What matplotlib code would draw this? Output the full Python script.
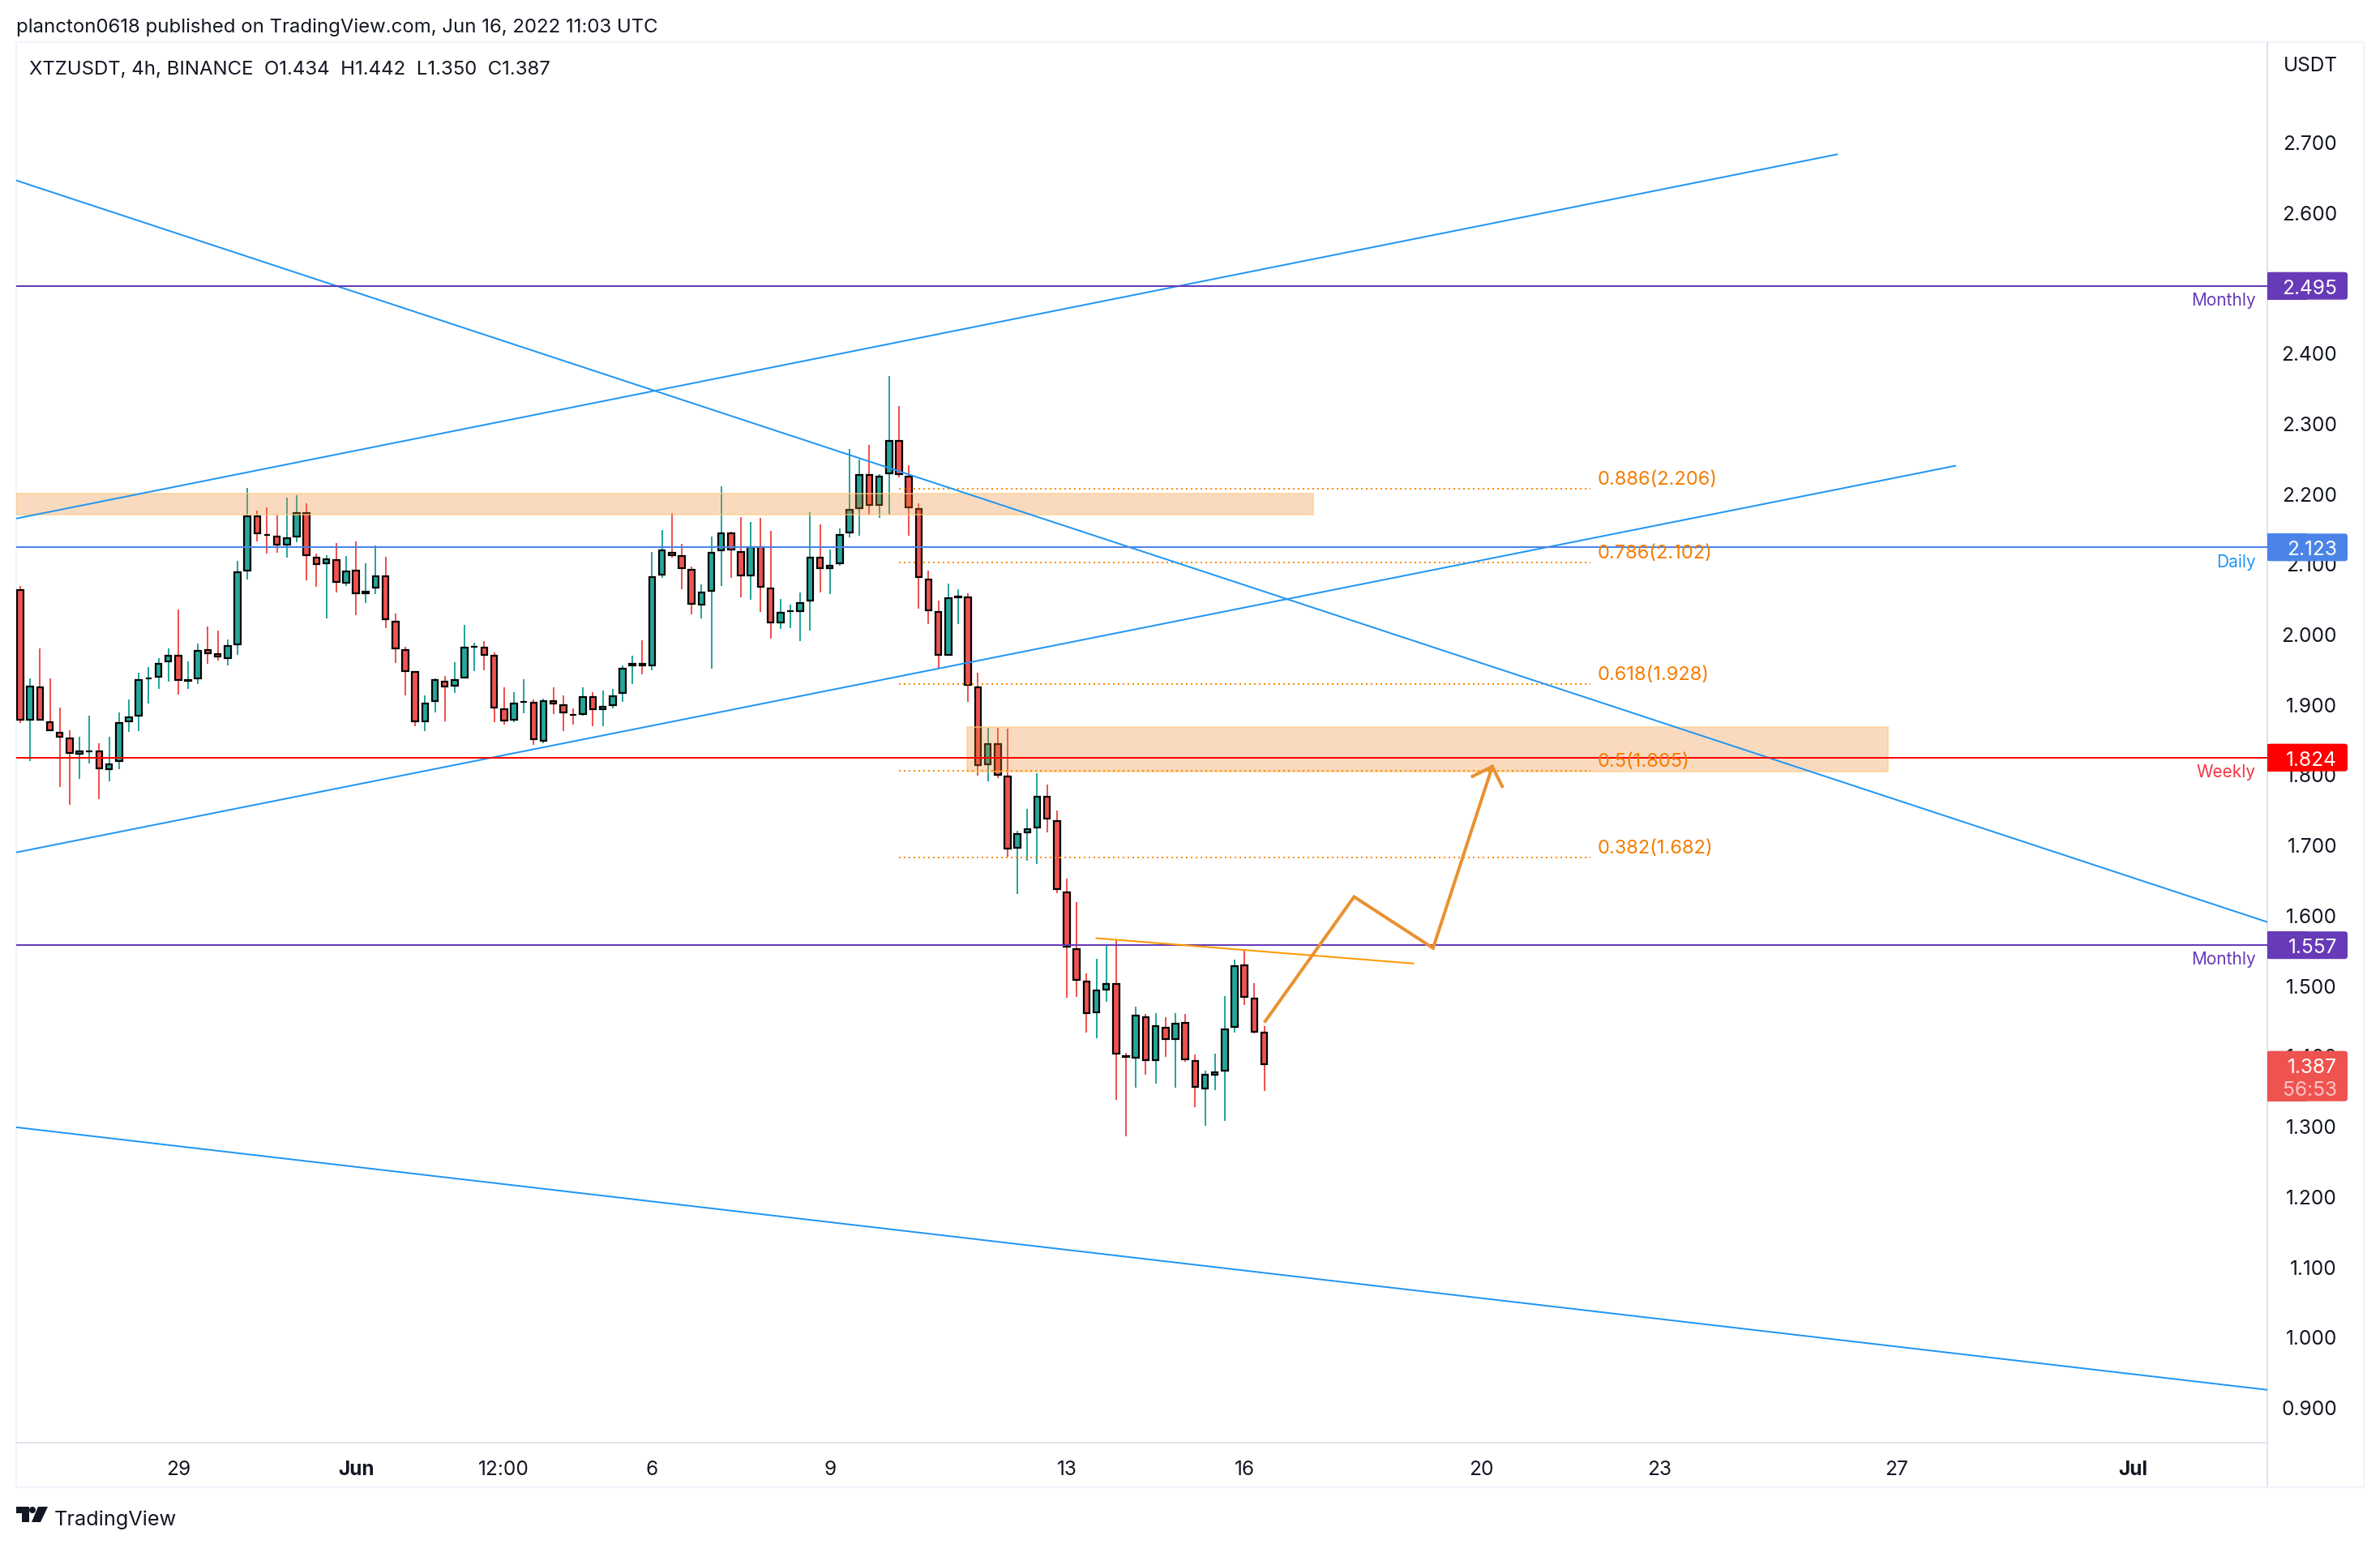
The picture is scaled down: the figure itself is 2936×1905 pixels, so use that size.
import matplotlib
matplotlib.use("Agg")
import matplotlib.pyplot as plt
from matplotlib.patches import Rectangle, FancyBboxPatch, Polygon, Circle

W, H, DPI = 2936, 1906, 200
PX = 72 / DPI

# ---- data ---------------------------------------------------------------
opens = [2.063,1.8765,1.9245,1.876,1.861,1.852,1.828,1.8327,1.8335,1.8066,
 1.818,1.874,1.8827,1.9357,1.938,1.96,1.9695,1.932,1.9357,1.9776,
 1.9718,1.9645,1.9841,2.089,2.1678,2.1417,2.14,2.1255,2.1375,2.1724,
 2.11,2.0994,2.1056,2.0717,2.0906,2.0567,2.065,2.0825,2.019,1.9776,
 1.9465,1.8746,1.9034,1.9326,1.9253,1.937,1.9814,1.981,1.9695,1.8934,
 1.877,1.9023,1.9026,1.847,1.906,1.9,1.886,1.8846,1.9107,1.892,
 1.8973,1.915,1.954,1.958,1.954,2.0833,2.117,2.1113,2.0917,2.0406,
 2.06,2.118,2.1436,2.118,2.082,2.1248,2.0652,2.0152,2.0314,2.0314,
 2.0464,2.11,2.092,2.0994,2.1434,2.178,2.2266,2.182,2.2274,2.276,
 2.2254,2.179,2.078,2.0318,1.9684,2.052,2.0536,1.9256,1.8134,1.844,
 1.7988,1.6943,1.7166,1.7237,1.769,1.7344,1.6328,1.5522,1.5061,1.4609,
 1.493,1.5026,1.4001,1.3961,1.4553,1.3918,1.441,1.4227,1.4474,1.393,
 1.3525,1.3719,1.3779,1.4398,1.5292,1.4819,1.434]
highs = [2.068,1.9365,1.9795,1.9365,1.895,1.8627,1.8535,1.8834,1.844,1.8535,
 1.888,1.9065,1.945,1.9526,1.9653,1.9795,2.0348,1.961,1.9864,2.0102,
 2.0045,1.9918,2.104,2.2074,2.1755,2.18,2.1693,2.194,2.1974,2.186,
 2.114,2.1117,2.1294,2.111,2.1317,2.1006,2.126,2.11,2.029,1.9814,
 1.9465,1.9126,1.937,1.94,1.96,2.013,1.987,1.99,1.9734,1.924,
 1.917,1.9357,1.9065,1.9076,1.924,1.9126,1.8942,1.924,1.917,1.9196,
 1.922,1.955,1.969,1.991,2.1167,2.1478,2.1717,2.128,2.0956,2.0706,
 2.1386,2.21,2.145,2.1663,2.1594,2.165,2.1467,2.05,2.0418,2.0587,
 2.173,2.156,2.1194,2.15,2.2628,2.2484,2.269,2.2274,2.367,2.324,
 2.24,2.186,2.09,2.0475,2.0718,2.0635,2.0578,1.945,1.8667,1.8667,
 1.8655,1.72,1.7511,1.8015,1.7857,1.7491,1.6522,1.6185,1.5173,1.5379,
 1.5585,1.5637,1.4037,1.47,1.4593,1.4609,1.4545,1.4609,1.4597,1.4021,
 1.3787,1.4029,1.4851,1.5367,1.5506,1.5033,1.442]
lows = [1.873,1.819,1.8765,1.862,1.7816,1.7566,1.794,1.815,1.7643,1.7897,
 1.808,1.861,1.862,1.9003,1.922,1.9315,1.913,1.922,1.929,1.9568,
 1.9614,1.9545,1.9695,2.0767,2.132,2.1136,2.1148,2.108,2.13,2.0756,
 2.0664,2.0214,2.0583,2.0675,2.027,2.0433,2.056,2.0076,1.958,1.912,
 1.869,1.862,1.8884,1.876,1.9153,1.937,1.9465,1.9476,1.874,1.8704,
 1.874,1.8865,1.8415,1.844,1.8854,1.862,1.8704,1.883,1.869,1.869,
 1.8934,1.9026,1.929,1.942,1.9476,2.08,2.108,2.063,2.028,2.0214,
 1.95,2.0675,2.08,2.0514,2.048,2.0306,1.9926,2.0064,2.0076,1.99,
 2.005,2.0583,2.057,2.0963,2.1368,2.139,2.169,2.1644,2.169,2.222,
 2.14,2.036,2.0133,1.9515,1.9684,2.0133,1.9037,1.798,1.7896,1.7944,
 1.6824,1.6296,1.6769,1.6721,1.7178,1.6316,1.4819,1.4831,1.4323,1.4243,
 1.476,1.3366,1.2846,1.3541,1.3723,1.3596,1.3977,1.3548,1.391,1.3263,
 1.2997,1.3505,1.3076,1.4323,1.4716,1.4311,1.350]
closes = [1.8765,1.926,1.8765,1.862,1.852,1.8296,1.8335,1.8335,1.8077,1.816,
 1.874,1.882,1.936,1.937,1.959,1.9695,1.9334,1.935,1.9764,1.9714,
 1.9668,1.9833,2.0883,2.1686,2.142,2.1405,2.1255,2.1367,2.1724,2.111,
 2.098,2.1067,2.073,2.0894,2.0567,2.0606,2.0825,2.02,1.9784,1.946,
 1.8746,1.9015,1.935,1.924,1.936,1.982,1.9826,1.9687,1.8942,1.876,
 1.9015,1.9038,1.849,1.9057,1.9,1.8873,1.884,1.9107,1.892,1.897,
 1.912,1.952,1.958,1.954,2.0813,2.1194,2.111,2.0925,2.0418,2.0594,
 2.117,2.1436,2.119,2.082,2.1248,2.066,2.0152,2.0314,2.033,2.0445,
 2.11,2.0925,2.0975,2.142,2.1772,2.2266,2.182,2.2254,2.276,2.226,
 2.179,2.0796,2.0326,1.9692,2.0524,2.0528,1.9264,1.8123,1.844,1.7988,
 1.6935,1.7158,1.7229,1.769,1.7364,1.636,1.5542,1.5069,1.4597,1.4934,
 1.5026,1.4021,1.3973,1.4577,1.3918,1.4426,1.4227,1.4462,1.3938,1.3548,
 1.3735,1.3771,1.439,1.528,1.4827,1.4331,1.387]

price_ticks = [0.9,1.0,1.1,1.2,1.3,1.4,1.5,1.6,1.7,1.8,1.9,2.0,2.1,2.2,2.3,2.4,2.6,2.7]
time_ticks = [16,34,49,64,82,106,124,148,166,190,214]
time_labels = ['29','Jun','12:00','6','9','13','16','20','23','27','Jul']

level_prices = [2.495,2.123,1.824,1.557]
level_names = ['Monthly','Daily','Weekly','Monthly']
level_line_colors = ['#673AB7','#4A84E8','#FF0000','#673AB7']
level_text_colors = ['#673AB7','#2196F3','#F23645','#673AB7']

fib_ratios = ['0.886','0.786','0.618','0.5','0.382']
fib_prices = [2.206,2.102,1.928,1.805,1.682]
fib_x = [89,159.06]

trend_a_x,trend_a_y = [-0.41,184],[2.164,2.682]
trend_b_x,trend_b_y = [-0.41,227.6],[2.645,1.590]
trend_c_x,trend_c_y = [-0.41,196],[1.689,2.239]
trend_d_x,trend_d_y = [-0.41,227.6],[1.298,0.9245]
neck_x,neck_y = [109,141.1],[1.567,1.531]
path_x = [126.1,135.1,143.1,149.1]
path_y = [1.4488,1.6259,1.5529,1.8112]
head_x = [147.1,149.1,150.1]
head_y = [1.7973,1.8112,1.7831]

zone1 = (-0.41,131,2.1694,2.200)
zone2 = (95.9,189.2,1.8039,1.8677)

# ---- layout -------------------------------------------------------------
plt.rcParams['font.family'] = ['Inter','DejaVu Sans']
TEXT = '#131722'
FS = 8.8
fig = plt.figure(figsize=(W/DPI,H/DPI),dpi=DPI,facecolor='white')

ov = fig.add_axes([0,0,1,1],zorder=0)
ov.set_xlim(0,W); ov.set_ylim(H,0); ov.axis('off')
L,R,T,B = 20,2797,53,1781
BOT,OUTR = 1836,2916
for (x0,y0,x1,y1,c) in [(L,T,OUTR,T,'#F0F3FA'),(L,T,L,BOT,'#F0F3FA'),(OUTR,T,OUTR,BOT,'#F0F3FA'),
                        (L,BOT,OUTR,BOT,'#F0F3FA'),(L,B,R,B,'#E0E3EB'),(R,T,R,BOT,'#E0E3EB')]:
    ov.plot([x0,x1],[y0,y1],color=c,lw=2*PX,solid_capstyle='butt')
ov.text(20,34,'plancton0618 published on TradingView.com, Jun 16, 2022 11:03 UTC',
        fontsize=8.63,color=TEXT,va='center',ha='left')
ov.text(36,86,'XTZUSDT, 4h, BINANCE  O1.434  H1.442  L1.350  C1.387',
        fontsize=8.63,color=TEXT,va='center',ha='left')
ov.text(2850,81,'USDT',fontsize=FS,color=TEXT,va='center',ha='center')
ov.text(67,1875,'TradingView',fontsize=9.1,color=TEXT,va='center',ha='left')
ov.add_patch(Polygon([(20,1860),(36,1860),(36,1879),(27,1879),(27,1868),(20,1868)],color=TEXT,lw=0))
ov.add_patch(Circle((40,1864),4,color=TEXT,lw=0))
ov.add_patch(Polygon([(47,1860),(59,1860),(50,1879),(39,1879)],color=TEXT,lw=0))

ax = fig.add_axes([L/W,1-B/H,(R-L)/W,(B-T)/H],zorder=1)
ax.patch.set_alpha(0)
for s in ax.spines.values():
    s.set_visible(False)
ax.set_xlim(-0.41,227.6)
ax.set_ylim(0.8493,2.8417)

ax.yaxis.tick_right()
ax.set_yticks(price_ticks,[f'{t:.3f}' for t in price_ticks])
ax.tick_params(axis='y',length=0,pad=86*PX,labelsize=FS,labelcolor=TEXT)
for lab in ax.get_yticklabels():
    lab.set_ha('right')
ax.set_xticks(time_ticks,time_labels)
ax.tick_params(axis='x',length=0,pad=21*PX,labelsize=FS,labelcolor=TEXT)
for lab in ax.get_xticklabels():
    if lab.get_text() in ('Jun','Jul'):
        lab.set_fontweight('bold')

# candles
UP,DOWN = '#26A69A','#EF5350'
INSET = 0.00115
for i,(o,h,l,c) in enumerate(zip(opens,highs,lows,closes)):
    col = UP if c >= o else DOWN
    top,bot = max(o,c),min(o,c)
    ax.plot([i,i],[l,h],color=col,lw=2*PX,solid_capstyle='butt',zorder=2)
    ht = max(top-bot-2*INSET,0.0002)
    ax.add_patch(Rectangle((i-0.31,(top+bot)/2-ht/2),0.62,ht,facecolor=col,edgecolor='black',
                           lw=2.2*PX,zorder=3,joinstyle='miter'))

# zones over candles
for x0,x1,y0,y1 in (zone1,zone2):
    ax.add_patch(Rectangle((x0,y0),x1-x0,y1-y0,facecolor='#EE872D',alpha=0.3,lw=0,zorder=4))
    ax.add_patch(Rectangle((x0,y0),x1-x0,y1-y0,facecolor='none',edgecolor='#FFCC80',alpha=0.6,lw=2*PX,zorder=4))

# fib levels
for r,p in zip(fib_ratios,fib_prices):
    ax.plot(fib_x,[p,p],color='#FB8C00',lw=2*PX,dashes=(1,2),dash_capstyle='butt',zorder=4.2)
    ax.annotate(f'{r}({p:.3f})',xy=(fib_x[1],p),xytext=(8.7*PX,12*PX),textcoords='offset points',
                fontsize=8.5,color='#F57C00',va='center',ha='left',zorder=4.6)

# trend lines
for xs,ys in ((trend_a_x,trend_a_y),(trend_b_x,trend_b_y),(trend_c_x,trend_c_y),(trend_d_x,trend_d_y)):
    ax.plot(xs,ys,color='#2196F3',lw=2*PX,zorder=4.4)

# levels
for p,c in zip(level_prices,level_line_colors):
    ax.axhline(p,color=c,lw=2*PX,zorder=4.5)

ax.plot(neck_x,neck_y,color='#FF9800',lw=2*PX,zorder=4.7)
ax.plot(path_x,path_y,color='#E99130',lw=4*PX,zorder=4.8,solid_joinstyle='miter')
ax.plot(head_x,head_y,color='#E99130',lw=4*PX,zorder=4.8,solid_joinstyle='miter')

# price labels
xpx = 12.18; ypx = 867.3
def label_box(p,color,above=17,below=17):
    x0 = 227.6; wd = 99/xpx
    y0 = p-below/ypx; ht = (above+below)/ypx
    ax.add_patch(FancyBboxPatch((x0,y0),wd,ht,boxstyle='round,pad=0,rounding_size=0.3',
                 mutation_aspect=xpx/ypx,facecolor=color,edgecolor='none',clip_on=False,zorder=6))
    ax.add_patch(Rectangle((x0,y0),wd/2,ht,facecolor=color,edgecolor='none',clip_on=False,zorder=6))

for p,c,tc,name in zip(level_prices,level_line_colors,level_text_colors,level_names):
    label_box(p,c)
    ax.annotate(f'{p:.3f}',xy=(227.6,p),xytext=(86*PX,0),textcoords='offset points',color='white',
                fontsize=FS,va='center_baseline',ha='right',zorder=7,annotation_clip=False)
    ax.annotate(name,xy=(227.6,p),xytext=(-14*PX,-17*PX),textcoords='offset points',color=tc,
                fontsize=7.5,va='center',ha='right',zorder=7,annotation_clip=False)

last = closes[-1]
label_box(last,'#EF5350',above=17,below=45)
ax.annotate(f'{last:.3f}',xy=(227.6,last),xytext=(86*PX,0),textcoords='offset points',color='white',
            fontsize=FS,va='center_baseline',ha='right',zorder=7,annotation_clip=False)
ax.annotate('56:53',xy=(227.6,last),xytext=(86*PX,-28*PX),textcoords='offset points',color='#F9C3C3',
            fontsize=FS,va='center_baseline',ha='right',zorder=7,annotation_clip=False)

fig.savefig('out.png',dpi=DPI,facecolor='white')
